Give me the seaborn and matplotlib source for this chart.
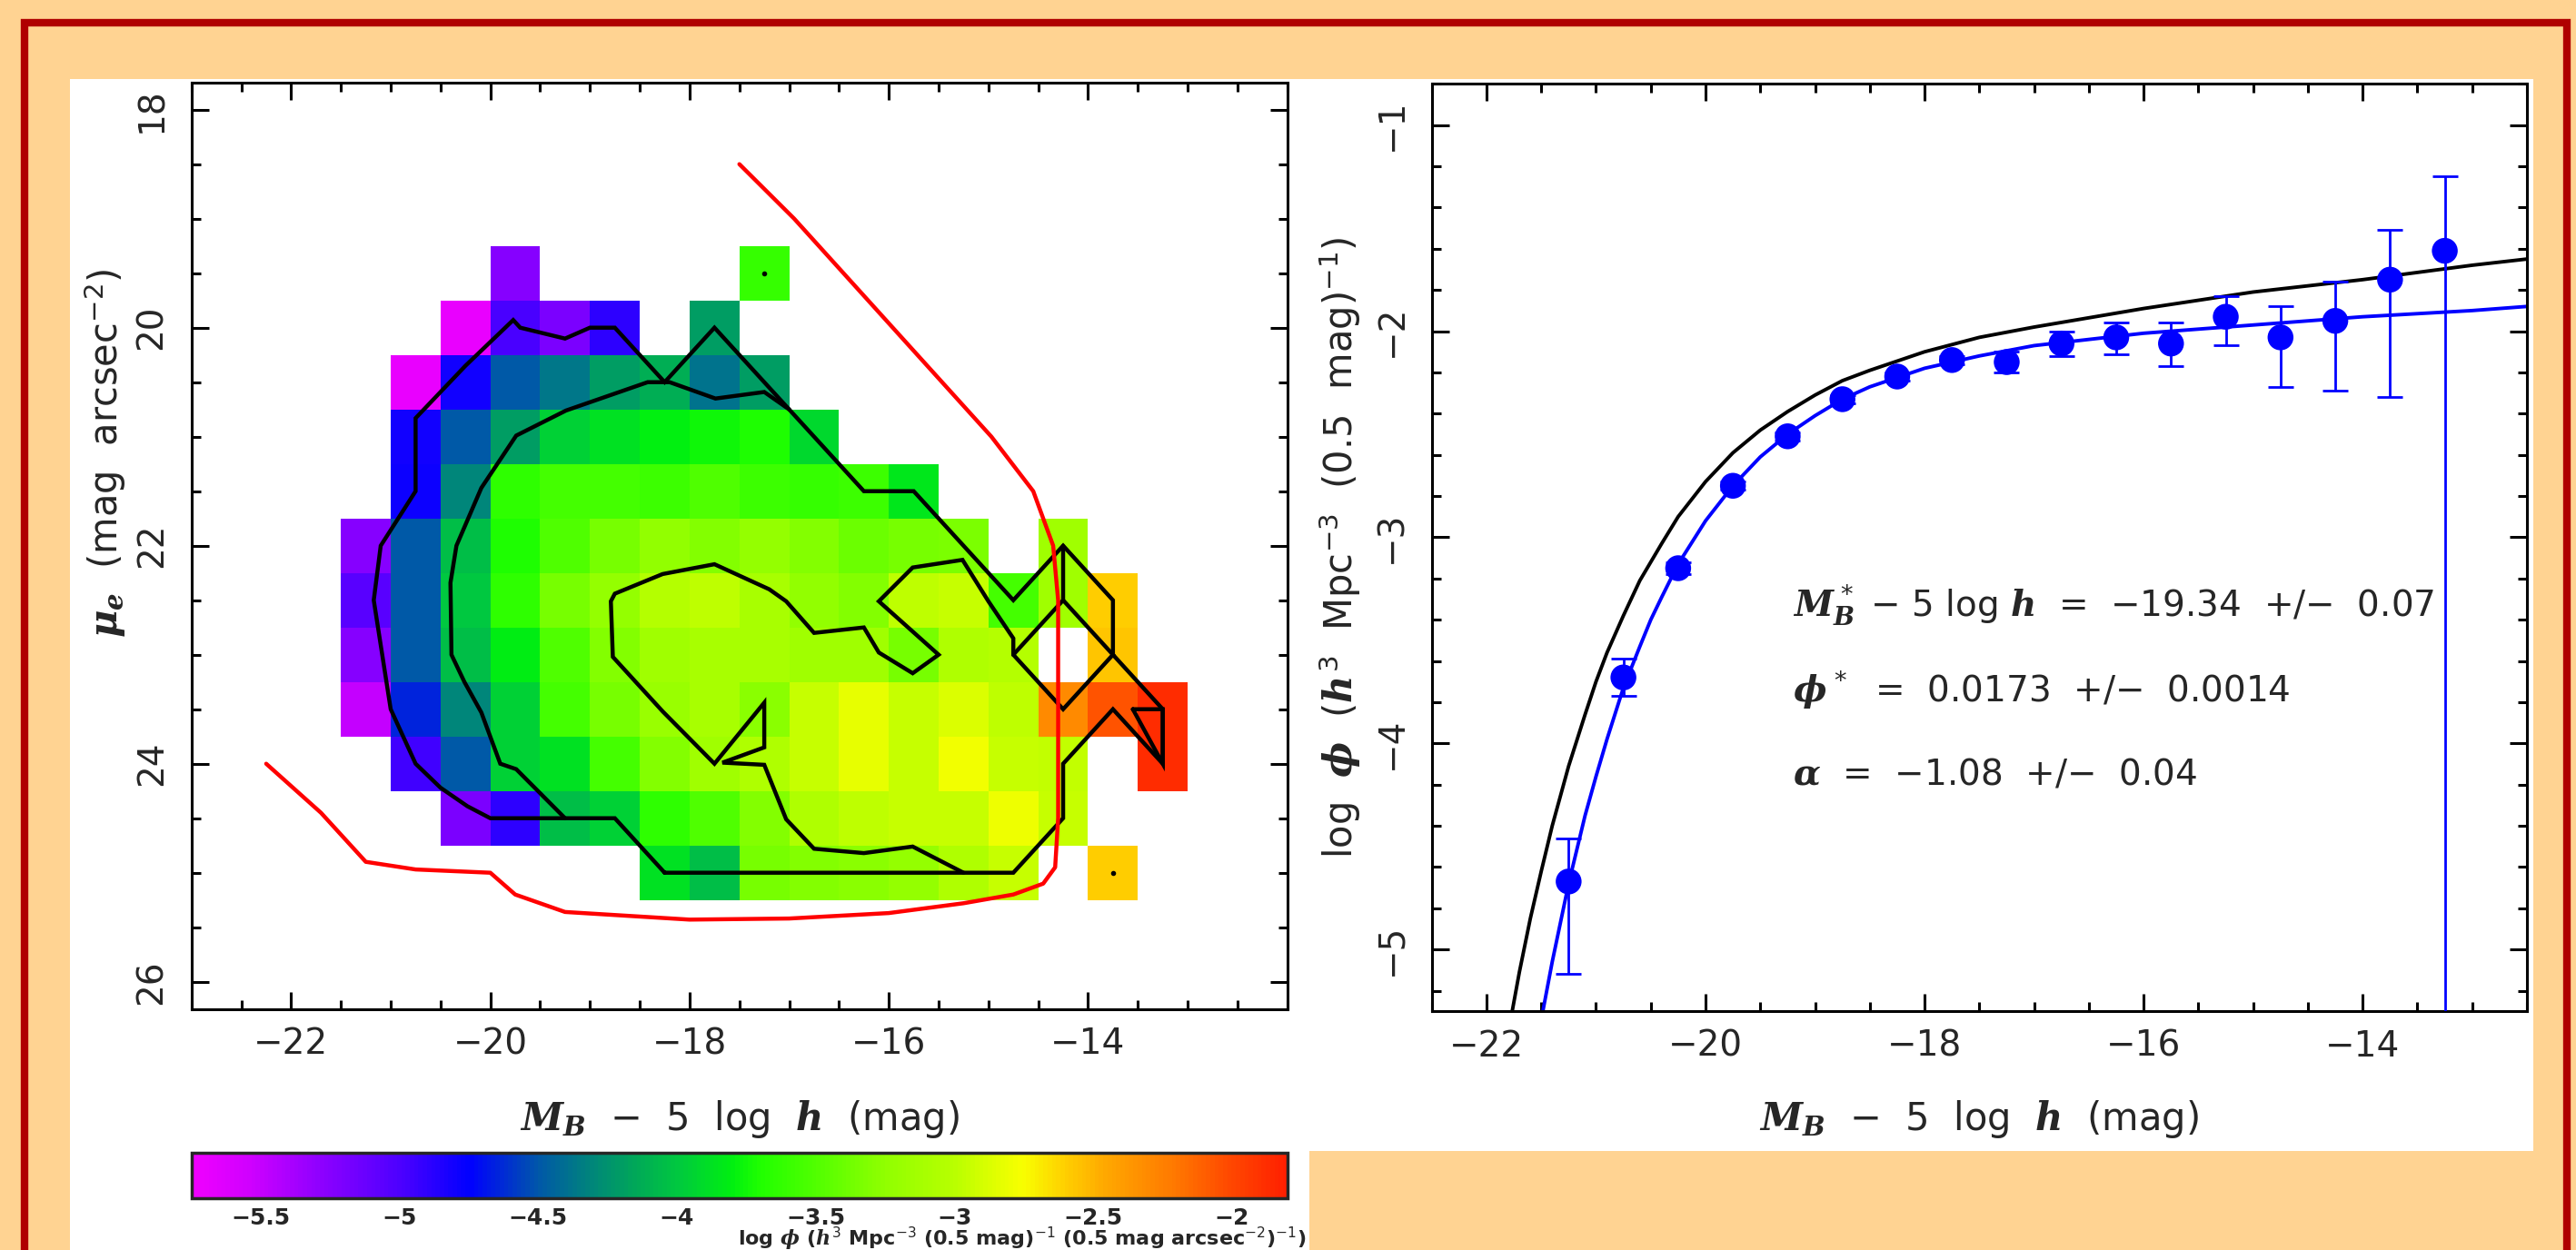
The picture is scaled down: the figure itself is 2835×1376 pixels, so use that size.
import numpy as np
import matplotlib
matplotlib.use("Agg")
import matplotlib.pyplot as plt
import seaborn as sns
from matplotlib.colors import LinearSegmentedColormap
from matplotlib.patches import Rectangle
from matplotlib.ticker import MultipleLocator, FixedLocator

# ---------------- data: left panel (bivariate brightness distribution) ----------------
nan = np.nan
mag_centers = [-21.25, -20.75, -20.25, -19.75, -19.25, -18.75, -18.25, -17.75, -17.25,
               -16.75, -16.25, -15.75, -15.25, -14.75, -14.25, -13.75, -13.25]
mu_centers = [19.5, 20.0, 20.5, 21.0, 21.5, 22.0, 22.5, 23.0, 23.5, 24.0, 24.5, 25.0]

bbd_rows = [
    [nan, nan, nan, -5.25, nan, nan, nan, nan, -3.62, nan, nan, nan, nan, nan, nan, nan, nan],
    [nan, nan, -5.70, -4.98, -5.20, -4.90, nan, -4.20, nan, nan, nan, nan, nan, nan, nan, nan, nan],
    [nan, -5.70, -4.80, -4.50, -4.37, -4.20, -4.12, -4.38, -4.20, nan, nan, nan, nan, nan, nan, nan, nan],
    [nan, -4.80, -4.50, -4.20, -3.95, -3.88, -3.80, -3.75, -3.70, -3.92, nan, nan, nan, nan, nan, nan, nan],
    [nan, -4.78, -4.30, -3.65, -3.55, -3.55, -3.58, -3.50, -3.58, -3.62, -3.58, -3.85, nan, nan, nan, nan, nan],
    [-5.25, -4.50, -4.05, -3.70, -3.50, -3.35, -3.25, -3.30, -3.22, -3.30, -3.40, -3.35, -3.33, nan, -3.15, nan, nan],
    [-5.05, -4.50, -4.00, -3.65, -3.35, -3.22, -3.02, -2.98, -3.10, -3.25, -3.30, -2.98, -2.95, -3.55, -3.15, -2.60, nan],
    [-5.25, -4.50, -4.05, -3.82, -3.50, -3.30, -3.15, -3.10, -3.10, -3.15, -3.15, -3.35, -3.06, -3.03, nan, -2.57, nan],
    [-5.50, -4.65, -4.30, -3.95, -3.55, -3.35, -3.20, -3.10, -3.28, -2.95, -2.82, -2.95, -2.88, -2.98, -2.30, -2.05, -1.87],
    [nan, -4.95, -4.50, -3.95, -3.88, -3.55, -3.30, -3.15, -3.06, -2.95, -2.82, -2.95, -2.78, -2.95, -2.97, nan, -1.87],
    [nan, nan, -5.20, -4.90, -4.05, -3.95, -3.65, -3.50, -3.30, -3.06, -2.98, -2.95, -2.95, -2.80, -2.95, nan, nan],
    [nan, nan, nan, nan, nan, nan, -3.88, -4.05, -3.35, -3.30, -3.28, -3.22, -3.06, -2.95, nan, -2.60, nan],
]

# contour lines (mag, mu_e)
contour_outer = [(-18.25, 25.0), (-18.75, 24.5), (-20.0, 24.5), (-20.23, 24.39), (-20.5, 24.22),
                 (-20.75, 24.0), (-21.0, 23.5), (-21.17, 22.5), (-21.1, 22.0), (-20.75, 21.5),
                 (-20.75, 20.83), (-20.25, 20.35), (-19.77, 19.93), (-19.7, 20.0), (-19.25, 20.1),
                 (-19.0, 20.0), (-18.75, 20.0), (-18.25, 20.5), (-17.75, 20.0), (-16.25, 21.5),
                 (-15.75, 21.5), (-14.75, 22.5), (-14.25, 22.0), (-13.75, 22.5), (-13.75, 23.0),
                 (-13.25, 23.5), (-13.25, 24.0), (-13.75, 23.5), (-14.25, 24.0), (-14.25, 24.5),
                 (-14.75, 25.0), (-18.25, 25.0)]
contour_middle = [(-19.25, 24.5), (-19.74, 24.05), (-19.9, 24.0), (-20.09, 23.53), (-20.26, 23.25),
                  (-20.39, 23.0), (-20.4, 22.34), (-20.34, 22.0), (-20.09, 21.47), (-19.74, 20.99),
                  (-19.24, 20.76), (-18.42, 20.5), (-18.2, 20.5), (-17.74, 20.65), (-17.25, 20.59),
                  (-17.0, 20.75)]
contour_inner = [(-15.25, 25.0), (-15.76, 24.76), (-16.25, 24.82), (-16.75, 24.78), (-17.03, 24.51),
                 (-17.25, 24.01), (-17.67, 23.99), (-17.25, 23.85), (-17.25, 23.44), (-17.75, 24.0),
                 (-18.27, 23.52), (-18.77, 23.02), (-18.79, 22.51), (-18.75, 22.44), (-18.27, 22.26),
                 (-17.75, 22.17), (-17.2, 22.4), (-17.03, 22.51), (-16.75, 22.8), (-16.25, 22.75),
                 (-16.1, 22.98), (-15.76, 23.17), (-15.5, 23.0), (-16.1, 22.51), (-15.76, 22.2),
                 (-15.26, 22.13), (-15.0, 22.51), (-14.75, 22.85), (-14.75, 23.0)]
contour_diamond = [(-14.75, 23.0), (-14.25, 22.5), (-13.75, 23.0), (-14.25, 23.5), (-14.75, 23.0)]
contour_stub = [(-14.25, 22.0), (-14.25, 22.5)]
contour_triangle = [(-13.55, 23.5), (-13.25, 23.5), (-13.25, 24.0), (-13.55, 23.5)]
contour_dots = [(-17.25, 19.5), (-13.75, 25.0)]

# red completeness limit
limit_line = [(-17.5, 18.5), (-16.95, 19.0), (-14.97, 21.0), (-14.55, 21.5), (-14.35, 22.0),
              (-14.3, 22.5), (-14.3, 24.5), (-14.33, 24.95), (-14.45, 25.1), (-14.75, 25.2),
              (-15.25, 25.28), (-16.0, 25.37), (-17.0, 25.42), (-18.0, 25.43), (-19.25, 25.36),
              (-19.75, 25.2), (-20.0, 25.0), (-20.75, 24.97), (-21.25, 24.9), (-21.55, 24.6),
              (-21.7, 24.45), (-22.25, 24.0)]

# ---------------- data: right panel (luminosity function) ----------------
lf_M = [-21.25, -20.75, -20.25, -19.75, -19.25, -18.75, -18.25, -17.75, -17.25,
        -16.75, -16.25, -15.75, -15.25, -14.75, -14.25, -13.75, -13.25]
lf_logphi = [-4.67, -3.68, -3.15, -2.75, -2.51, -2.33, -2.22, -2.14, -2.15,
             -2.06, -2.03, -2.06, -1.93, -2.03, -1.95, -1.75, -1.61]
lf_upper = [-4.46, -3.59, -3.12, -2.73, -2.49, -2.31, -2.20, -2.12, -2.10,
            -2.00, -1.96, -1.96, -1.83, -1.88, -1.76, -1.51, -1.25]
lf_lower = [-5.12, -3.77, -3.18, -2.77, -2.53, -2.35, -2.24, -2.16, -2.20,
            -2.12, -2.11, -2.17, -2.07, -2.27, -2.29, -2.32, -6.00]

fit_M = [-21.55, -21.5, -21.4, -21.25, -21.1, -21.0, -20.9, -20.75, -20.6, -20.5, -20.4, -20.25,
         -20.0, -19.75, -19.5, -19.25, -19.0, -18.75, -18.5, -18.0, -17.5, -17.0, -16.0, -15.0,
         -14.0, -13.0, -12.5]
fit_logphi = [-5.49, -5.34, -5.06, -4.68, -4.35, -4.16, -3.98, -3.73, -3.53, -3.40, -3.29, -3.13,
              -2.92, -2.75, -2.61, -2.50, -2.41, -2.33, -2.27, -2.18, -2.12, -2.07, -2.01, -1.97,
              -1.93, -1.90, -1.88]

ref_M = [-21.8, -21.7, -21.6, -21.5, -21.4, -21.25, -21.1, -21.0, -20.9, -20.75, -20.6, -20.5,
         -20.4, -20.25, -20.0, -19.75, -19.5, -19.25, -19.0, -18.75, -18.5, -18.0, -17.5, -17.0,
         -16.0, -15.0, -14.0, -13.0, -12.5]
ref_logphi = [-5.40, -5.11, -4.85, -4.62, -4.40, -4.11, -3.86, -3.70, -3.56, -3.38, -3.21, -3.12,
              -3.03, -2.90, -2.73, -2.59, -2.48, -2.39, -2.31, -2.24, -2.19, -2.10, -2.03, -1.98,
              -1.89, -1.81, -1.75, -1.68, -1.65]

cbar_ticks = [-5.5, -5, -4.5, -4, -3.5, -3, -2.5, -2]
cbar_ticklabels = ['\u22125.5', '\u22125', '\u22124.5', '\u22124', '\u22123.5', '\u22123', '\u22122.5', '\u22122']
cmap_stops = [-5.75, -5.55, -5.3, -5.0, -4.75, -4.5, -4.3, -4.15, -4.0, -3.8, -3.7, -3.5,
              -3.25, -3.0, -2.85, -2.75, -2.6, -2.45, -2.2, -2.0, -1.8]
cmap_colors = ['#f000ff', '#d000ff', '#9000ff', '#4c00ff', '#0000ff', '#0058a8', '#008878',
               '#00a858', '#00c840', '#00f010', '#20ff00', '#50ff00', '#90ff00', '#b8ff00',
               '#e0ff00', '#f8ff00', '#ffd000', '#ffa800', '#ff7800', '#ff4800', '#ff2000']
VMIN, VMAX = -5.75, -1.8

MINUS = '\u2212'
xlab = '$M_B$  ' + MINUS + '  5  log  $h$  (mag)'
ylab_left = r'$\mu_e$  (mag  arcsec$^{-2}$)'
ylab_right = r'log  $\phi$  ($h^3$  Mpc$^{-3}$  (0.5  mag)$^{-1}$)'
cbar_label = r'log $\phi$ ($h^3$ Mpc$^{-3}$ (0.5 mag)$^{-1}$ (0.5 mag arcsec$^{-2}$)$^{-1}$)'
fit_lines = ['$M^*_B$ ' + MINUS + ' 5 log $h$  =  ' + MINUS + '19.34  +/' + MINUS + '  0.07',
             r'$\phi^*$  =  0.0173  +/' + MINUS + '  0.0014',
             r'$\alpha$  =  ' + MINUS + '1.08  +/' + MINUS + '  0.04']

# ---------------- style ----------------
sns.set_style("white")
plt.rcParams['font.family'] = ['DejaVu Sans']
plt.rcParams['mathtext.fontset'] = 'custom'
plt.rcParams['mathtext.rm'] = 'DejaVu Sans'
plt.rcParams['mathtext.it'] = 'DejaVu Serif:italic:bold'
plt.rcParams['mathtext.bf'] = 'DejaVu Serif:bold'

PEACH = '#FFD392'
W, H = 2835, 1376


def fbox(x0, y0, x1, y1):
    return [x0 / W, 1 - y1 / H, (x1 - x0) / W, (y1 - y0) / H]


fig = plt.figure(figsize=(28.35, 13.76), dpi=100)
fig.patch.set_facecolor(PEACH)
# white panels
for (x0, y0, x1, y1) in [(77, 87, 1441, 1376), (1441, 87, 2788, 1267)]:
    fig.add_artist(Rectangle((x0 / W, 1 - y1 / H), (x1 - x0) / W, (y1 - y0) / H,
                             transform=fig.transFigure, facecolor='white', edgecolor='none', zorder=-2))
fig.add_artist(Rectangle((27 / W, -0.1), (2825 - 27) / W, 1.1 - 25 / H, transform=fig.transFigure,
                         facecolor='none', edgecolor='#B00000', lw=6.0, zorder=-1))


def style_axes(ax, lab_size=28):
    for s in ax.spines.values():
        s.set_linewidth(2.2)
        s.set_color('black')
    ax.tick_params(which='both', direction='in', top=True, right=True, bottom=True, left=True,
                   width=2.2, color='black')
    ax.tick_params(which='major', length=14, labelsize=lab_size)
    ax.tick_params(which='minor', length=7.5)
    ax.tick_params(axis='x', pad=14)
    ax.tick_params(axis='y', pad=18, labelrotation=90)
    for t in ax.get_yticklabels():
        t.set_va('center')


# ---------------- left panel ----------------
cmap = LinearSegmentedColormap.from_list(
    'bbd', [((v - VMIN) / (VMAX - VMIN), c) for v, c in zip(cmap_stops, cmap_colors)])
grid = np.array(bbd_rows, dtype=float)

ax1 = fig.add_axes(fbox(210.7, 90.7, 1416.7, 1110.7))
mesh = ax1.pcolormesh(mag_centers, mu_centers, np.ma.masked_invalid(grid), cmap=cmap,
                      vmin=VMIN, vmax=VMAX, shading='nearest')
for line in [contour_outer, contour_middle, contour_inner, contour_diamond, contour_stub, contour_triangle]:
    xs, ys = zip(*line)
    ax1.plot(xs, ys, color='black', lw=3.2, solid_joinstyle='miter', zorder=3)
dx, dy = zip(*contour_dots)
ax1.plot(dx, dy, 'o', color='black', ms=3, zorder=3)
lx, ly = zip(*limit_line)
ax1.plot(lx, ly, color='#FF0000', lw=3.2, zorder=4)

ax1.set_xlim(-23, -12)
ax1.set_ylim(26.25, 17.75)
ax1.xaxis.set_major_locator(FixedLocator([-22, -20, -18, -16, -14]))
ax1.xaxis.set_minor_locator(MultipleLocator(0.5))
ax1.yaxis.set_major_locator(FixedLocator([18, 20, 22, 24, 26]))
ax1.yaxis.set_minor_locator(MultipleLocator(0.5))
style_axes(ax1)
ax1.set_xlabel(xlab, fontsize=30, va='center')
ax1.xaxis.set_label_coords(0.5, (1110.7 - 1232) / 1020)
ax1.set_ylabel(ylab_left, fontsize=30, va='center')
ax1.yaxis.set_label_coords((116 - 210.7) / 1206, 0.6)

# colorbar
cax = fig.add_axes(fbox(210.7, 1269.3, 1416.7, 1319.3))
cb = fig.colorbar(mesh, cax=cax, orientation='horizontal')
cb.outline.set_linewidth(2.5)
cb.set_ticks(cbar_ticks)
cb.set_ticklabels(cbar_ticklabels)
cax.xaxis.set_minor_locator(MultipleLocator(0.1))
cax.tick_params(which='both', direction='in', top=True, bottom=True, width=2, color='black')
cax.tick_params(which='major', length=11, labelsize=18, pad=7)
cax.tick_params(which='minor', length=6)
for t in cax.get_xticklabels():
    t.set_fontweight('bold')
fig.text(1437 / W, 1 - 1364 / H, cbar_label, ha='right', va='center', fontsize=16, fontweight='bold')

# ---------------- right panel ----------------
ax2 = fig.add_axes(fbox(1575.7, 92.3, 2781, 1113.3))
sns.lineplot(x=ref_M, y=ref_logphi, color='black', lw=2.8, ax=ax2, legend=False)
sns.lineplot(x=fit_M, y=fit_logphi, color='#0000FF', lw=2.8, ax=ax2, legend=False)
yerr = [np.array(lf_logphi) - np.array(lf_lower), np.array(lf_upper) - np.array(lf_logphi)]
ax2.errorbar(lf_M, lf_logphi, yerr=yerr, fmt='none', ecolor='#0000FF', elinewidth=2,
             capsize=10, capthick=2, zorder=4)
sns.scatterplot(x=lf_M, y=lf_logphi, color='#0000FF', s=420, edgecolor='none', ax=ax2,
                legend=False, zorder=5)
ax2.set_xlim(-22.5, -12.5)
ax2.set_ylim(-5.3, -0.8)
ax2.xaxis.set_major_locator(FixedLocator([-22, -20, -18, -16, -14]))
ax2.xaxis.set_minor_locator(MultipleLocator(0.5))
ax2.yaxis.set_major_locator(FixedLocator([-5, -4, -3, -2, -1]))
ax2.yaxis.set_minor_locator(MultipleLocator(0.2))
style_axes(ax2)
ax2.set_xlabel(xlab, fontsize=30, va='center')
ax2.xaxis.set_label_coords(0.5, (1113.3 - 1232) / 1021)
ax2.set_ylabel(ylab_right, fontsize=30, va='center')
ax2.yaxis.set_label_coords((1474.6 - 1575.7) / 1205.3, 0.5)

for text, y in zip(fit_lines, [-3.33, -3.74, -4.15]):
    ax2.text(-19.2, y, text, fontsize=28, va='center')

fig.savefig('out.png', dpi=100, facecolor=fig.get_facecolor())
